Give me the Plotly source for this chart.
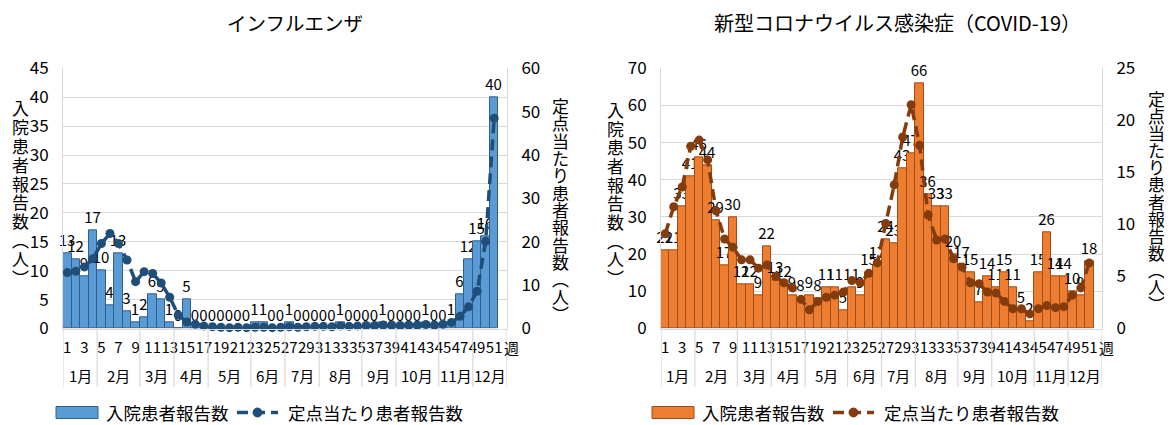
import plotly.graph_objects as go

# ---------------- data ----------------
weeks = list(range(1, 53))
week_tick_vals = list(range(1, 52, 2))
week_tick_text = [str(w) for w in week_tick_vals]
week_unit_label = "週"
month_labels = ["1月", "2月", "3月", "4月", "5月", "6月", "7月", "8月", "9月", "10月", "11月", "12月"]
month_week_counts = [4, 5, 4, 4, 5, 4, 4, 5, 4, 5, 4, 4]

flu_title = "インフルエンザ"
covid_title = "新型コロナウイルス感染症（COVID-19）"
bar_name = "入院患者報告数"
line_name = "定点当たり患者報告数"
left_axis_title = "入院患者報告数︵人︶"
right_axis_title = "定点当たり患者報告数︵人︶"

flu_hosp = [13, 12, 9, 17, 10, 4, 13, 3, 1, 2, 6, 5, 1,
            0, 5, 0, 0, 0, 0, 0, 0, 0, 1, 1, 0, 0,
            1, 0, 0, 0, 0, 0, 1, 0, 0, 0, 0, 1, 0,
            0, 0, 0, 1, 0, 0, 1, 6, 12, 15, 16, 40, None]
flu_rate = [12.9, 13.2, 14.2, 16.1, 19.6, 21.9, 19.6, 15.8, 10.8, 13.1, 12.7, 10.5, 7.2,
            3.1, 1.5, 1.0, 0.6, 0.4, 0.3, 0.2, 0.3, 0.2, 0.3, 0.3, 0.2, 0.3,
            0.4, 0.3, 0.4, 0.5, 0.5, 0.4, 0.6, 0.5, 0.6, 0.7, 0.7, 0.8, 0.8,
            0.7, 0.8, 0.8, 0.9, 0.8, 1.0, 1.4, 2.8, 5.0, 8.6, 20.1, 48.5, None]

covid_hosp = [21, 21, 33, 41, 46, 44, 29, 17, 30, 12,
              12, 9, 22, 13, 12, 9, 8, 9, 8, 11,
              11, 5, 11, 9, 15, 17, 24, 23, 43, 47,
              66, 36, 33, 33, 20, 17, 15, 7, 14, 11,
              15, 11, 5, 2, 15, 26, 14, 14, 10, 9,
              18, None]
covid_rate = [9.1, 11.7, 13.6, 17.5, 18.1, 16.2, 11.3, 8.6, 7.8, 6.6,
              6.6, 5.8, 6.1, 5.0, 4.4, 3.9, 2.8, 1.8, 2.6, 3.0,
              3.2, 3.5, 4.6, 4.4, 5.3, 6.3, 10.1, 13.8, 18.4, 21.5,
              17.6, 10.9, 8.5, 8.6, 6.7, 5.9, 4.4, 4.3, 3.5, 3.4,
              2.6, 1.9, 1.9, 1.4, 1.9, 2.2, 2.0, 2.1, 3.2, 3.9,
              6.3, None]

flu_left_range = [0, 45]
flu_right_range = [0, 60]
covid_left_range = [0, 70]
covid_right_range = [0, 25]

# ---------------- layout helpers ----------------
# the page body adds an 8px offset, so the figure is sized to fit the window
OFF = 8
W, H = 1172 - OFF, 425 - OFF
FONT = "Noto Sans CJK JP, Noto Sans, sans-serif"
GRID = "#D9D9D9"


def px_x(x):
    return (x - OFF) / W


def px_y(y):
    return 1 - (y - OFF) / H


y_dom = [px_y(328.5), px_y(68.3)]
left_dom = [px_x(63), px_x(507)]
right_dom = [px_x(661), px_x(1102)]

fig = go.Figure()

styles = {
    "flu": dict(bar="#5B9BD5", edge="#2E5F8E", line="#1F4E79"),
    "covid": dict(bar="#ED7D31", edge="#A04D18", line="#843C0C"),
}


def add_panel(hosp, rate, xa, ya, ya2, st):
    fig.add_trace(go.Bar(
        x=weeks, y=hosp, name=bar_name, xaxis=xa, yaxis=ya,
        marker=dict(color=st["bar"], line=dict(color=st["edge"], width=1)),
        texttemplate="%{y}", textposition="outside", cliponaxis=False,
        constraintext="none", textfont=dict(size=15, color="#000", family=FONT),
        showlegend=False,
    ))
    fig.add_trace(go.Scatter(
        x=weeks, y=rate, name=line_name, xaxis=xa, yaxis=ya2,
        mode="lines+markers",
        line=dict(color=st["line"], width=3.5, dash="11px,6px"),
        marker=dict(color=st["line"], size=9),
        showlegend=False, cliponaxis=False,
    ))


add_panel(flu_hosp, flu_rate, "x", "y", "y2", styles["flu"])
add_panel(covid_hosp, covid_rate, "x2", "y3", "y4", styles["covid"])

xcommon = dict(range=[0.5, 52.5], tickmode="array", tickvals=week_tick_vals,
               ticktext=week_tick_text, tickangle=0, showgrid=False,
               showline=True, linecolor=GRID, linewidth=1, ticks="",
               tickfont=dict(size=15, color="#000", family=FONT),
               ticklabelstandoff=5, zeroline=False, automargin=False)
ycommon = dict(showline=True, linecolor=GRID, linewidth=1, ticks="",
               tickfont=dict(size=17, color="#000", family=FONT),
               zeroline=False, automargin=False, domain=y_dom,
               ticklabelstandoff=10)

fig.update_layout(
    xaxis=dict(xcommon, domain=left_dom, anchor="y"),
    xaxis2=dict(xcommon, domain=right_dom, anchor="y3"),
    yaxis=dict(ycommon, range=flu_left_range, dtick=5, showgrid=True,
               gridcolor=GRID, gridwidth=1, anchor="x"),
    yaxis2=dict(ycommon, range=flu_right_range, dtick=10, showgrid=False,
                overlaying="y", side="right", anchor="x"),
    yaxis3=dict(ycommon, range=covid_left_range, dtick=10, showgrid=True,
                gridcolor=GRID, gridwidth=1, anchor="x2"),
    yaxis4=dict(ycommon, range=covid_right_range, dtick=5, showgrid=False,
                overlaying="y3", side="right", anchor="x2"),
)

shapes = []
annotations = []


def text_at(x, y, txt, size, xref="paper", yref="paper", xanchor="center", **kw):
    annotations.append(dict(x=x, y=y, xref=xref, yref=yref, text=txt, showarrow=False,
                            xanchor=xanchor, yanchor="middle", borderpad=0,
                            font=dict(size=size, color="#000", family=FONT), **kw))


# month group labels and dividers
for xa in ("x", "x2"):
    start = 0.5
    bounds = [start]
    for lab, n in zip(month_labels, month_week_counts):
        end = start + n
        text_at((start + end) / 2, px_y(375), lab, 15, xref=xa)
        bounds.append(end)
        start = end
    for b in bounds:
        shapes.append(dict(type="line", xref=xa, yref="paper", x0=b, x1=b,
                           y0=px_y(329), y1=px_y(387),
                           line=dict(color=GRID, width=1.2)))
    text_at(1, px_y(347), week_unit_label, 15, xref=xa + " domain", xanchor="left", xshift=-4)

# chart titles
text_at(px_x(295), px_y(22.5), flu_title, 19.5)
text_at(px_x(897), px_y(22.5), covid_title, 20)


# vertical axis titles (stacked characters)
def vertical(text, xc, ytop, ybot):
    n = len(text)
    step = (ybot - ytop) / n
    for i, ch in enumerate(text):
        text_at(px_x(xc), px_y(ytop + step * (i + 0.5)), ch, 17)


vertical(left_axis_title, 20, 98, 287)
vertical(right_axis_title, 560, 97, 322)
vertical(left_axis_title, 615, 100, 287)
vertical(right_axis_title, 1156, 90, 312)


# legends (drawn as swatches + text)
def legend_at(x0, st):
    yc = 412.5
    shapes.append(dict(type="rect", xref="paper", yref="paper",
                       x0=px_x(x0), x1=px_x(x0 + 42), y0=px_y(yc + 6), y1=px_y(yc - 6),
                       fillcolor=st["bar"], line=dict(color=st["edge"], width=1)))
    text_at(px_x(x0 + 49), px_y(yc), bar_name, 17.5, xanchor="left")
    lx0 = x0 + 181
    shapes.append(dict(type="line", xref="paper", yref="paper",
                       x0=px_x(lx0), x1=px_x(lx0 + 41), y0=px_y(yc), y1=px_y(yc),
                       line=dict(color=st["line"], width=3.5, dash="11px,6px")))
    shapes.append(dict(type="circle", xref="paper", yref="paper",
                       x0=px_x(lx0 + 16), x1=px_x(lx0 + 25), y0=px_y(yc + 4.5), y1=px_y(yc - 4.5),
                       fillcolor=st["line"], line=dict(color=st["line"], width=1)))
    text_at(px_x(lx0 + 50), px_y(yc), line_name, 17.5, xanchor="left")


legend_at(56, styles["flu"])
legend_at(652, styles["covid"])

fig.update_layout(
    width=W, height=H, margin=dict(l=0, r=0, t=0, b=0),
    template="none", paper_bgcolor="white", plot_bgcolor="white",
    bargap=0, barmode="overlay",
    font=dict(family=FONT, color="#000"),
    shapes=shapes, annotations=annotations,
    showlegend=False,
)

fig.write_html("out.html")
